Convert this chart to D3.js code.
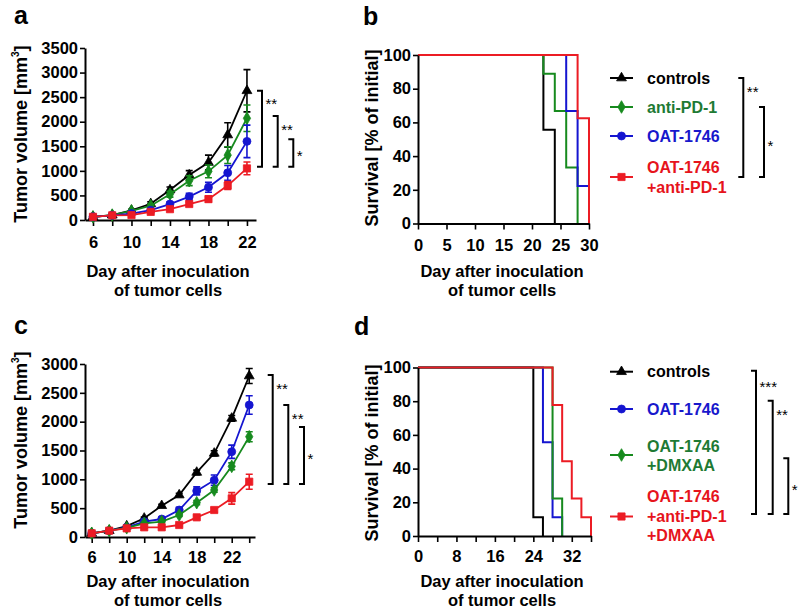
<!DOCTYPE html>
<html><head><meta charset="utf-8">
<script src="https://cdn.jsdelivr.net/npm/d3@7"></script>
<style>body{margin:0;background:#fff}</style>
</head><body>
<svg id="chart" width="800" height="611" style="background:#fff"></svg>
<script>
// ---------- DATA ----------
// Panel a: tumor growth
const daysA = [6, 8, 10, 12, 14, 16, 18, 20, 22];
const aControls = [65, 100, 195, 330, 610, 915, 1170, 1730, 2630];
const aControlsErr = [10, 15, 25, 40, 60, 90, 150, 250, 430];
const aAntiPD1 = [65, 100, 185, 290, 525, 800, 990, 1320, 2070];
const aAntiPD1Err = [10, 15, 25, 35, 60, 100, 130, 170, 270];
const aOAT = [65, 95, 130, 200, 325, 475, 665, 960, 1600];
const aOATErr = [10, 10, 20, 30, 40, 70, 100, 150, 330];
const aCombo = [65, 95, 100, 165, 220, 325, 425, 700, 1050];
const aComboErr = [10, 10, 15, 20, 30, 40, 60, 80, 130];
const aTicksX = [6, 8, 10, 12, 14, 16, 18, 20, 22];
const aLabelsX = [6, 10, 14, 18, 22];
const aTicksY = [0, 500, 1000, 1500, 2000, 2500, 3000, 3500];
const aSig = [[2630, 1085, "**"], [2116, 1085, "**"], [1642, 1085, "*"]];

// Panel c: tumor growth
const daysC = [6, 8, 10, 12, 14, 16, 18, 20, 22, 24];
const cControls = [64, 110, 190, 324, 543, 728, 1120, 1451, 2058, 2792];
const cControlsErr = [8, 10, 15, 20, 25, 30, 40, 45, 50, 130];
const cOAT = [64, 110, 168, 266, 312, 468, 800, 985, 1479, 2289];
const cOATErr = [8, 10, 15, 20, 30, 45, 70, 90, 115, 160];
const cDMXAA = [64, 110, 160, 237, 266, 381, 595, 815, 1225, 1739];
const cDMXAAErr = [8, 10, 12, 15, 20, 25, 35, 40, 60, 87];
const cCombo = [64, 110, 150, 168, 168, 208, 341, 468, 670, 959];
const cComboErr = [8, 10, 15, 15, 20, 20, 30, 40, 100, 130];
const cTicksX = [6, 8, 10, 12, 14, 16, 18, 20, 22, 24];
const cLabelsX = [6, 10, 14, 18, 22];
const cTicksY = [0, 500, 1000, 1500, 2000, 2500, 3000];
const cSig = [[2809, 919, "**"], [2289, 919, "**"], [1907, 919, "*"]];

// Panel b: survival (day of change, survival %)
const bControlsDays = [0, 22, 24];
const bControlsSurv = [100, 55.6, 0];
const bAntiDays = [0, 22, 24, 26, 28];
const bAntiSurv = [100, 88.9, 66.7, 33.3, 0];
const bOATDays = [0, 26, 28, 30];
const bOATSurv = [100, 66.7, 22.2, 0];
const bComboDays = [0, 28, 30];
const bComboSurv = [100, 62.5, 0];
const bTicksX = [0, 5, 10, 15, 20, 25, 30];
const survTicksY = [0, 20, 40, 60, 80, 100];

// Panel d: survival
const dControlsDays = [0, 24, 26];
const dControlsSurv = [100, 11.1, 0];
const dOATDays = [0, 26, 28, 30];
const dOATSurv = [100, 55.6, 11.1, 0];
const dDMXDays = [0, 28, 30];
const dDMXSurv = [100, 22.2, 0];
const dComboDays = [0, 28, 30, 32, 34, 36];
const dComboSurv = [100, 77.8, 44.4, 22.2, 11.1, 0];
const dTicksX = [0, 4, 8, 12, 16, 20, 24, 28, 32, 36];
const dLabelsX = [0, 8, 16, 24, 32];

// Legends
const bLegendNames = [["controls"], ["anti-PD-1"], ["OAT-1746"], ["OAT-1746", "+anti-PD-1"]];
const dLegendNames = [["controls"], ["OAT-1746"], ["OAT-1746", "+DMXAA"], ["OAT-1746", "+anti-PD-1", "+DMXAA"]];

// ---------- STYLE ----------
const FONT = "'Liberation Sans', Arial, Helvetica, sans-serif";
const COL = { black: "#000000", green: "#178a1e", blue: "#1515d0", red: "#ec1c24" };
const TXT = { black: "#000000", green: "#1e7a34", blue: "#1818cc", red: "#e6141c" };
const SYM = { black: d3.symbolTriangle, green: d3.symbolDiamond, blue: d3.symbolCircle, red: d3.symbolSquare };
const SYMSIZE = { black: 42, green: 46, blue: 50, red: 52 };

const svg = d3.select("#chart");

function styleAxis(g, fs) {
  g.attr("font-family", FONT);
  g.select(".domain").attr("stroke", "#000").attr("stroke-width", 2);
  g.selectAll(".tick line").attr("stroke", "#000").attr("stroke-width", 1.6);
  g.selectAll(".tick text").attr("fill", "#000").attr("font-size", fs)
    .attr("font-weight", "bold").attr("font-family", FONT);
}

function marker(g, key, cx, cy) {
  g.append("path")
    .attr("d", d3.symbol().type(SYM[key]).size(SYMSIZE[key])())
    .attr("transform", `translate(${cx},${cy})`)
    .attr("fill", COL[key]).attr("stroke", COL[key]).attr("stroke-width", 0.8);
}

function yTitle(x, yc, parts) {
  const t = svg.append("text").attr("transform", `translate(${x},${yc}) rotate(-90)`)
    .attr("text-anchor", "middle").attr("font-family", FONT).attr("font-weight", "bold")
    .attr("font-size", 18).attr("fill", "#000");
  parts(t);
}

function xTitle(xc, y) {
  const t = svg.append("text").attr("text-anchor", "middle").attr("font-family", FONT)
    .attr("font-weight", "bold").attr("font-size", 16.5).attr("fill", "#000");
  t.append("tspan").attr("x", xc).attr("y", y).text("Day after inoculation");
  t.append("tspan").attr("x", xc).attr("y", y + 19).text("of tumor cells");
}

function panelLetter(x, y, s) {
  svg.append("text").attr("x", x).attr("y", y).attr("font-family", FONT)
    .attr("font-weight", "bold").attr("font-size", 25).attr("fill", "#000").text(s);
}

function bracket(x, y1, y2, label, ly) {
  const g = svg.append("g");
  g.append("path").attr("d", `M${x - 5},${y1}H${x}V${y2}H${x - 5}`)
    .attr("fill", "none").attr("stroke", "#000").attr("stroke-width", 2);
  g.append("text").attr("x", x + 3.5).attr("y", ly + 8.5).attr("font-family", FONT)
    .attr("font-size", 15).attr("fill", "#000").text(label);
}

function growth(o) {
  const x = d3.scaleLinear().domain(o.xDom).range(o.xRange);
  const y = d3.scaleLinear().domain(o.yDom).range(o.yRange);
  const g = svg.append("g");
  const xa = g.append("g").attr("transform", `translate(0,${o.yRange[0]})`)
    .call(d3.axisBottom(x).tickValues(o.xTicks).tickSize(6).tickSizeOuter(0).tickPadding(o.xPad)
      .tickFormat(d => o.xLabels.includes(d) ? d : ""));
  styleAxis(xa, 16.5);
  const ya = g.append("g").attr("transform", `translate(${o.xRange[0]},0)`)
    .call(d3.axisLeft(y).tickValues(o.yTicks).tickSize(5).tickSizeOuter(0).tickPadding(2)
      .tickFormat(d3.format("d")));
  styleAxis(ya, 16.5);
  const line = d3.line().x(p => x(p[0])).y(p => y(p[1]));
  o.series.forEach(s => {
    const pts = o.days.map((d, i) => [d, s.v[i], s.e[i]]);
    g.append("path").datum(pts).attr("d", line).attr("fill", "none")
      .attr("stroke", COL[s.c]).attr("stroke-width", 1.8);
    pts.forEach(p => {
      const cx = x(p[0]), yt = y(p[1] + p[2]), yb = y(Math.max(0, p[1] - p[2]));
      g.append("path").attr("d", `M${cx},${yt}V${yb}M${cx - 3.5},${yt}H${cx + 3.5}M${cx - 3.5},${yb}H${cx + 3.5}`)
        .attr("fill", "none").attr("stroke", COL[s.c]).attr("stroke-width", 1.6);
    });
    pts.forEach(p => marker(g, s.c, x(p[0]), y(p[1])));
  });
  o.sig.forEach((s, i) => {
    const bx = o.bx[i], y1 = y(s[0]), y2 = y(s[1]);
    const ly = s[2].length > 1 ? y1 + 10 : (y1 + y2) / 2;
    bracket(bx, y1, y2, s[2], ly);
  });
}

function survival(o) {
  const x = d3.scaleLinear().domain(o.xDom).range(o.xRange);
  const y = d3.scaleLinear().domain([0, 100]).range(o.yRange);
  const g = svg.append("g");
  const line = d3.line().curve(d3.curveStepAfter).x(p => x(p[0])).y(p => y(p[1]));
  o.series.forEach(s => {
    const pts = s.d.map((d, i) => [d, s.v[i]]);
    g.append("path").datum(pts).attr("d", line).attr("fill", "none")
      .attr("stroke", COL[s.c]).attr("stroke-width", 2);
  });
  const xa = g.append("g").attr("transform", `translate(0,${o.yRange[0]})`)
    .call(d3.axisBottom(x).tickValues(o.xTicks).tickSize(6).tickSizeOuter(0).tickPadding(o.xPad)
      .tickFormat(d => o.xLabels.includes(d) ? d : ""));
  styleAxis(xa, 16.5);
  const ya = g.append("g").attr("transform", `translate(${o.xRange[0]},0)`)
    .call(d3.axisLeft(y).tickValues(survTicksY).tickSize(5).tickSizeOuter(0).tickPadding(2));
  styleAxis(ya, 16.5);
}

function legend(names, keys, rows, markerYs) {
  const g = svg.append("g");
  names.forEach((lines, i) => {
    const k = keys[i];
    g.append("line").attr("x1", 610).attr("x2", 633).attr("y1", markerYs[i]).attr("y2", markerYs[i])
      .attr("stroke", COL[k]).attr("stroke-width", 2);
    marker(g, k, 621.5, markerYs[i]);
    lines.forEach((t, j) => {
      g.append("text").attr("x", 647).attr("y", rows[i][j]).attr("dy", "0.35em")
        .attr("font-family", FONT).attr("font-weight", "bold").attr("font-size", 16)
        .attr("fill", TXT[k]).text(t);
    });
  });
}

// ---------- PANEL A ----------
panelLetter(14, 24, "a");
growth({
  days: daysA, xDom: [5.17, 22.94], xRange: [85, 256], yDom: [0, 3500], yRange: [220, 48],
  xTicks: aTicksX, xLabels: aLabelsX, yTicks: aTicksY, xPad: 10,
  series: [
    { v: aControls, e: aControlsErr, c: "black" },
    { v: aAntiPD1, e: aAntiPD1Err, c: "green" },
    { v: aOAT, e: aOATErr, c: "blue" },
    { v: aCombo, e: aComboErr, c: "red" }
  ],
  sig: aSig, bx: [262, 277.7, 293.3]
});
yTitle(27, 134, t => {
  t.append("tspan").text("Tumor volume [mm");
  t.append("tspan").attr("font-size", 10).attr("dy", -8).text("3");
  t.append("tspan").attr("dy", 8).text("]");
});
xTitle(168, 277);

// ---------- PANEL B ----------
panelLetter(363, 25, "b");
survival({
  xDom: [0, 30], xRange: [418, 589], yRange: [223.5, 55], xTicks: bTicksX, xLabels: bTicksX, xPad: 10,
  series: [
    { d: bControlsDays, v: bControlsSurv, c: "black" },
    { d: bAntiDays, v: bAntiSurv, c: "green" },
    { d: bOATDays, v: bOATSurv, c: "blue" },
    { d: bComboDays, v: bComboSurv, c: "red" }
  ]
});
yTitle(378, 138, t => t.text("Survival [% of initial]"));
xTitle(502, 277);
legend(bLegendNames, ["black", "green", "blue", "red"], [[78], [107], [136], [167, 187]], [78, 107, 136, 177]);
bracket(743.3, 78, 177, "**", 88);
bracket(764, 107, 177, "*", 142);

// ---------- PANEL C ----------
panelLetter(14, 334, "c");
growth({
  days: daysC, xDom: [5.234, 24.66], xRange: [85, 255], yDom: [0, 3000], yRange: [537, 364],
  xTicks: cTicksX, xLabels: cLabelsX, yTicks: cTicksY, xPad: 8,
  series: [
    { v: cControls, e: cControlsErr, c: "black" },
    { v: cOAT, e: cOATErr, c: "blue" },
    { v: cDMXAA, e: cDMXAAErr, c: "green" },
    { v: cCombo, e: cComboErr, c: "red" }
  ],
  sig: cSig, bx: [272.7, 288.3, 304]
});
yTitle(27, 440, t => {
  t.append("tspan").text("Tumor volume [mm");
  t.append("tspan").attr("font-size", 10).attr("dy", -8).text("3");
  t.append("tspan").attr("dy", 8).text("]");
});
xTitle(168, 587);

// ---------- PANEL D ----------
panelLetter(354, 335, "d");
survival({
  xDom: [0, 36], xRange: [418, 591], yRange: [536, 367.5], xTicks: dTicksX, xLabels: dLabelsX, xPad: 8,
  series: [
    { d: dControlsDays, v: dControlsSurv, c: "black" },
    { d: dOATDays, v: dOATSurv, c: "blue" },
    { d: dDMXDays, v: dDMXSurv, c: "green" },
    { d: dComboDays, v: dComboSurv, c: "red" }
  ]
});
yTitle(378, 453, t => t.text("Survival [% of initial]"));
xTitle(502, 587);
legend(dLegendNames, ["black", "blue", "green", "red"], [[371.7], [409], [446.7, 465.5], [496.7, 516.3, 535]], [371.7, 409, 455, 516.5]);
bracket(756, 370.7, 514, "***", 383);
bracket(772.7, 400.7, 514, "**", 411.5);
bracket(788.3, 458.3, 514, "*", 486);
</script>
</body></html>
